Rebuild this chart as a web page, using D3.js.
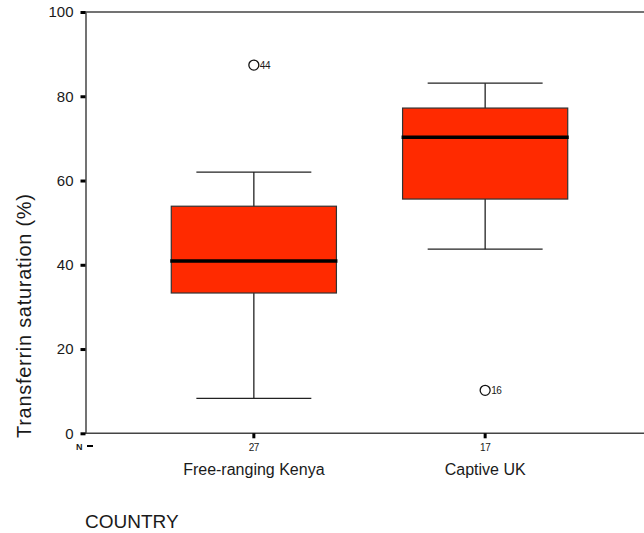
<!DOCTYPE html>
<html>
<head>
<meta charset="utf-8">
<script src="https://cdnjs.cloudflare.com/ajax/libs/d3/7.8.5/d3.min.js"></script>
<style>
  body { margin: 0; background: #fff; }
  svg { display: block; }
</style>
</head>
<body>
<svg id="chart" width="644" height="533"></svg>
<script>
// data
let countries = ["Free-ranging Kenya", "Captive UK"];
let counts = [27, 17];
let whiskerLow = [8.3, 43.7];
let q1 = [33.3, 55.6];
let medians = [40.9, 70.3];
let q3 = [53.9, 77.2];
let whiskerHigh = [62, 83.1];
let outlierValues = [87.4, 10.2];
let outlierLabels = ["44", "16"];
let yTicks = [0, 20, 40, 60, 80, 100];

let svg = d3.select("#chart");
let fontFamily = "Arial, 'Liberation Sans', sans-serif";
let boxColor = "#ff2a00";
let axisColor = "#444";
let textColor = "#1a1a1a";

let x = d3.scalePoint()
  .domain(countries)
  .range([85, 654])
  .padding(0.73);

let y = d3.scaleLinear()
  .domain([0, 100])
  .range([433.3, 12]);

let boxWidth = x.step() * 0.714;
let capWidth = x.step() * 0.497;

let boxes = countries.map(function(c, i) {
  return {
    key: c, n: counts[i], lo: whiskerLow[i], q1: q1[i], med: medians[i],
    q3: q3[i], hi: whiskerHigh[i], out: outlierValues[i], outLabel: outlierLabels[i]
  };
});

// frame lines (top and bottom)
svg.append("line")
  .attr("x1", 85).attr("x2", 644)
  .attr("y1", y(100)).attr("y2", y(100))
  .style("stroke", axisColor).style("stroke-width", 1.5);
svg.append("line")
  .attr("x1", 85).attr("x2", 644)
  .attr("y1", y(0)).attr("y2", y(0))
  .style("stroke", axisColor).style("stroke-width", 1.5);

// y axis
let yAxis = d3.axisLeft(y)
  .tickValues(yTicks)
  .tickSize(0)
  .tickPadding(12);
let yG = svg.append("g")
  .attr("transform", "translate(85.5,0)")
  .call(yAxis);
yG.select(".domain").style("stroke", axisColor).style("stroke-width", 1.5);
yG.selectAll("text")
  .style("font-family", fontFamily)
  .style("font-size", "15px")
  .style("fill", textColor);
// little black tick squares
yG.selectAll(".tick").append("rect")
  .attr("x", -5).attr("y", -1.5)
  .attr("width", 5).attr("height", 3)
  .style("fill", "#000");

// whiskers
svg.selectAll(".whisker")
  .data(boxes).enter()
  .append("line")
  .attr("class", "whisker")
  .attr("x1", function(d) { return x(d.key); })
  .attr("x2", function(d) { return x(d.key); })
  .attr("y1", function(d) { return y(d.lo); })
  .attr("y2", function(d) { return y(d.hi); })
  .style("stroke", "#222").style("stroke-width", 1.3);

svg.selectAll(".capHi")
  .data(boxes).enter()
  .append("line")
  .attr("class", "capHi")
  .attr("x1", function(d) { return x(d.key) - capWidth / 2; })
  .attr("x2", function(d) { return x(d.key) + capWidth / 2; })
  .attr("y1", function(d) { return y(d.hi); })
  .attr("y2", function(d) { return y(d.hi); })
  .style("stroke", "#222").style("stroke-width", 1.3);

svg.selectAll(".capLo")
  .data(boxes).enter()
  .append("line")
  .attr("class", "capLo")
  .attr("x1", function(d) { return x(d.key) - capWidth / 2; })
  .attr("x2", function(d) { return x(d.key) + capWidth / 2; })
  .attr("y1", function(d) { return y(d.lo); })
  .attr("y2", function(d) { return y(d.lo); })
  .style("stroke", "#222").style("stroke-width", 1.3);

// boxes
svg.selectAll(".box")
  .data(boxes).enter()
  .append("rect")
  .attr("class", "box")
  .attr("x", function(d) { return x(d.key) - boxWidth / 2; })
  .attr("y", function(d) { return y(d.q3); })
  .attr("width", boxWidth)
  .attr("height", function(d) { return y(d.q1) - y(d.q3); })
  .style("fill", boxColor)
  .style("stroke", "#333").style("stroke-width", 1.2);

// medians
svg.selectAll(".median")
  .data(boxes).enter()
  .append("line")
  .attr("class", "median")
  .attr("x1", function(d) { return x(d.key) - boxWidth / 2 - 1; })
  .attr("x2", function(d) { return x(d.key) + boxWidth / 2 + 1; })
  .attr("y1", function(d) { return y(d.med); })
  .attr("y2", function(d) { return y(d.med); })
  .style("stroke", "#000").style("stroke-width", 3.5);

// outliers
svg.selectAll(".outlier")
  .data(boxes).enter()
  .append("circle")
  .attr("class", "outlier")
  .attr("cx", function(d) { return x(d.key); })
  .attr("cy", function(d) { return y(d.out); })
  .attr("r", 5)
  .style("fill", "none")
  .style("stroke", "#111").style("stroke-width", 1.3);

svg.selectAll(".outlierLabel")
  .data(boxes).enter()
  .append("text")
  .attr("class", "outlierLabel")
  .attr("x", function(d) { return x(d.key) + 6; })
  .attr("y", function(d) { return y(d.out) + 3.5; })
  .text(function(d) { return d.outLabel; })
  .style("font-family", fontFamily)
  .style("font-size", "10px")
  .style("letter-spacing", "-0.5px")
  .style("fill", textColor);

// x ticks below the axis
svg.selectAll(".xtick")
  .data(boxes).enter()
  .append("rect")
  .attr("class", "xtick")
  .attr("x", function(d) { return x(d.key) - 1.5; })
  .attr("y", y(0))
  .attr("width", 3).attr("height", 5)
  .style("fill", "#000");

// N counts
svg.selectAll(".nLabel")
  .data(boxes).enter()
  .append("text")
  .attr("class", "nLabel")
  .attr("x", function(d) { return x(d.key); })
  .attr("y", 451)
  .text(function(d) { return d.n; })
  .style("font-family", fontFamily)
  .style("font-size", "10px")
  .style("letter-spacing", "-0.5px")
  .style("text-anchor", "middle")
  .style("fill", textColor);

svg.append("text")
  .attr("x", 76)
  .attr("y", 450)
  .text("N")
  .style("font-family", fontFamily)
  .style("font-size", "9px")
  .style("font-weight", "bold")
  .style("fill", textColor);
svg.append("rect")
  .attr("x", 87).attr("y", 445)
  .attr("width", 6).attr("height", 2)
  .style("fill", "#000");

// category labels
svg.selectAll(".catLabel")
  .data(boxes).enter()
  .append("text")
  .attr("class", "catLabel")
  .attr("x", function(d) { return x(d.key); })
  .attr("y", 475)
  .text(function(d) { return d.key; })
  .style("font-family", fontFamily)
  .style("font-size", "16px")
  .style("text-anchor", "middle")
  .style("fill", textColor);

// axis titles
svg.append("text")
  .attr("x", 85)
  .attr("y", 528)
  .text("COUNTRY")
  .style("font-family", fontFamily)
  .style("font-size", "19px")
  .style("fill", textColor);

svg.append("text")
  .attr("transform", "translate(31," + 316 + ") rotate(-90)")
  .text("Transferrin saturation (%)")
  .attr("textLength", 244)
  .attr("lengthAdjust", "spacing")
  .style("font-family", fontFamily)
  .style("font-size", "20px")
  .style("text-anchor", "middle")
  .style("fill", textColor);
</script>
</body>
</html>
